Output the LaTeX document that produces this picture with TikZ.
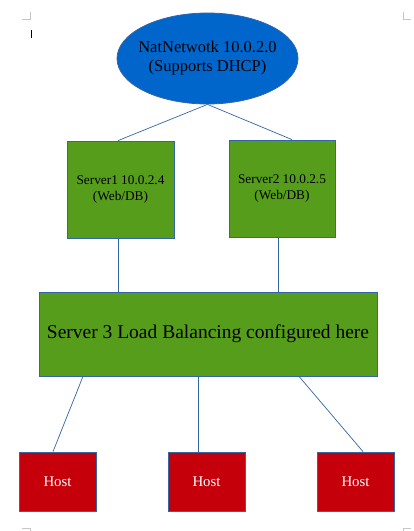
\documentclass[tikz,border=0pt]{standalone}
\usepackage{fontspec}
\setmainfont{Liberation Serif}
\usetikzlibrary{shapes.geometric}
\definecolor{lobord}{HTML}{3465A4}
\definecolor{loblue}{HTML}{0066CC}
\definecolor{logreen}{HTML}{579D1C}
\definecolor{lored}{HTML}{C5000B}

\begin{document}
\begin{tikzpicture}[x=1pt,y=-1pt,
  srvbox/.style={draw=lobord,line width=0.8pt,fill=logreen,inner sep=0pt,align=center},
  hostbox/.style={draw=lobord,line width=0.8pt,fill=lored,inner sep=0pt,text=white,
    minimum width=77pt,minimum height=59pt,font=\fontsize{14.8}{17}\selectfont},
  link/.style={draw=lobord,line width=0.7pt}]
\useasboundingbox (0,0) rectangle (414,531);
% page corner marks and cursor
\draw[gray!45,line width=0.7pt] (22,19) -- (30,19) -- (30,12);
\draw[gray!45,line width=0.7pt] (411,19) -- (403,19) -- (403,12);
\draw[gray!45,line width=0.7pt] (22,528) -- (30,528) -- (30,531);
\draw[gray!45,line width=0.7pt] (411,528) -- (403,528) -- (403,531);
\fill[black] (30.5,30) rectangle (32.2,38);
% network
\node[ellipse,draw=lobord,line width=0.8pt,fill=loblue,inner sep=0pt,
  minimum width=181pt,minimum height=91pt,
  label={[align=center,font=\fontsize{16.5}{19}\selectfont]center:NatNetwotk 10.0.2.0\\(Supports DHCP)}]
  (nat) at (207.5,58.5) {};
% web/db servers
\node[srvbox,minimum width=107pt,minimum height=97pt,font=\fontsize{13.3}{16}\selectfont]
  (s1) at (120.5,189.5) {Server1 10.0.2.4\\(Web/DB)};
\node[srvbox,minimum width=106pt,minimum height=97pt,font=\fontsize{13.3}{16}\selectfont]
  (s2) at (282,188.5) {Server2 10.0.2.5\\(Web/DB)};
% load balancer
\node[srvbox,minimum width=338pt,minimum height=84pt,font=\fontsize{19.5}{22}\selectfont]
  (lb) at (208,334) {Server 3 Load Balancing configured here};
% hosts
\foreach \x/\name in {57.5/h1, 206.5/h2, 355.5/h3}{
  \node[hostbox] (\name) at (\x,481.5) {Host};
}
% connectors
\draw[link] (nat.south) -- ([xshift=-2.5pt]s1.north);
\draw[link] (nat.south) -- ([xshift=10pt]s2.north);
\draw[link] ([xshift=-2.5pt]s1.south) -- ([xshift=-2.5pt]s1.south |- lb.north);
\draw[link] ([xshift=-4pt]s2.south) -- ([xshift=-4pt]s2.south |- lb.north);
\draw[link] ([xshift=-125pt]lb.south) -- ([xshift=-4.5pt]h1.north);
\draw[link] ([xshift=-10pt]lb.south) -- ([xshift=-8.5pt]h2.north);
\draw[link] ([xshift=91pt]lb.south) -- ([xshift=7.5pt]h3.north);
\end{tikzpicture}
\end{document}
